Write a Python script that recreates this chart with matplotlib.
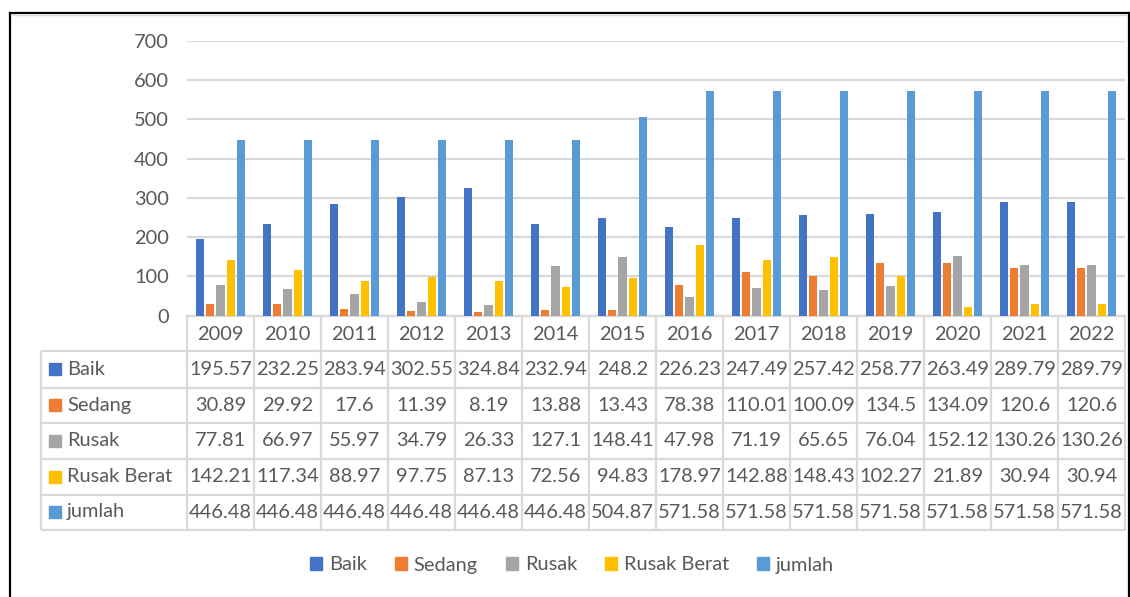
import matplotlib
matplotlib.use("Agg")
import matplotlib.pyplot as plt
from matplotlib.patches import Patch
import numpy as np

plt.rcParams["font.family"] = ["Lato", "DejaVu Sans"]

years = [2009, 2010, 2011, 2012, 2013, 2014, 2015, 2016, 2017, 2018, 2019, 2020, 2021, 2022]
baik = [195.57, 232.25, 283.94, 302.55, 324.84, 232.94, 248.2, 226.23, 247.49, 257.42, 258.77, 263.49, 289.79, 289.79]
sedang = [30.89, 29.92, 17.6, 11.39, 8.19, 13.88, 13.43, 78.38, 110.01, 100.09, 134.5, 134.09, 120.6, 120.6]
rusak = [77.81, 66.97, 55.97, 34.79, 26.33, 127.1, 148.41, 47.98, 71.19, 65.65, 76.04, 152.12, 130.26, 130.26]
rusak_berat = [142.21, 117.34, 88.97, 97.75, 87.13, 72.56, 94.83, 178.97, 142.88, 148.43, 102.27, 21.89, 30.94, 30.94]
jumlah = [446.48, 446.48, 446.48, 446.48, 446.48, 446.48, 504.87, 571.58, 571.58, 571.58, 571.58, 571.58, 571.58, 571.58]

series_names = ["Baik", "Sedang", "Rusak", "Rusak Berat", "jumlah"]
series_vals = [baik, sedang, rusak, rusak_berat, jumlah]
series_colors = ["#4472C4", "#ED7D31", "#A5A5A5", "#FFC000", "#5B9BD5"]

TXT = "#595959"
GRID = "#D9D9D9"
FS = 14.4

W, H = 1130, 597
fig = plt.figure(figsize=(W / 100, H / 100), dpi=100)

# plot area in pixels
px_left, px_right = 187, 1125
px_top, px_base = 40.7, 315.7
ax = fig.add_axes([px_left / W, 1 - px_base / H,
                   (px_right - px_left) / W, (px_base - px_top) / H])

x = np.arange(len(years)) + 0.5
step, bw = 0.155, 0.124
for i, (vals, col) in enumerate(zip(series_vals, series_colors)):
    ax.bar(x + (i - 2) * step, vals, width=bw, color=col, zorder=3)

ax.set_xlim(0, len(years))
ax.set_ylim(0, 700)
ax.set_yticks(range(0, 701, 100))
ax.yaxis.grid(True, color=GRID, linewidth=1.6, zorder=0)
ax.set_xticks([])
ax.tick_params(axis="y", length=0, pad=13, labelsize=FS, labelcolor=TXT)
for s in ["top", "right", "left"]:
    ax.spines[s].set_visible(False)
ax.spines["bottom"].set_color(GRID)
ax.spines["bottom"].set_linewidth(1.6)

# overlay in pixel coordinates for data table + frame
ov = fig.add_axes([0, 0, 1, 1])
ov.set_xlim(0, W)
ov.set_ylim(H, 0)
ov.axis("off")

col_x = px_left + np.arange(len(years) + 1) * (px_right - px_left) / len(years)
tbl_left = 41
row_y = [351, 387.5, 423, 459, 494.5, 529.5]
lw = 1.6

ov.vlines(col_x, px_base, row_y[-1], color=GRID, lw=lw)
ov.vlines([tbl_left], row_y[0], row_y[-1], color=GRID, lw=lw)
ov.hlines(row_y, tbl_left, px_right, color=GRID, lw=lw)

for j, yr in enumerate(years):
    cx = (col_x[j] + col_x[j + 1]) / 2
    ov.text(cx, (px_base + row_y[0]) / 2 + 1, str(yr), ha="center", va="center",
            fontsize=FS, color=TXT)
    for r, vals in enumerate(series_vals):
        cy = (row_y[r] + row_y[r + 1]) / 2
        ov.text(cx, cy, f"{vals[j]:g}", ha="center", va="center", fontsize=FS, color=TXT)

for r, (name, col) in enumerate(zip(series_names, series_colors)):
    cy = (row_y[r] + row_y[r + 1]) / 2
    ov.add_patch(plt.Rectangle((49, cy - 6), 12, 12, color=col))
    ov.text(67, cy, name, ha="left", va="center", fontsize=FS, color=TXT)

# chart frame
ov.plot([9.5, 9.5], [H, 12.5], color="black", lw=1.6, clip_on=False)
ov.plot([9.5, 1128.5], [12.5, 12.5], color="black", lw=1.6, clip_on=False)
ov.plot([1128.5, 1128.5], [12.5, H], color="black", lw=1.6, clip_on=False)
ov.plot([11, 1126], [14.5, 14.5], color=GRID, lw=1, clip_on=False)

handles = [Patch(color=c) for c in series_colors]
fig.legend(handles, series_names, loc="center", bbox_to_anchor=(572 / W, 1 - 565 / H),
           ncol=5, frameon=False, fontsize=FS, labelcolor=TXT,
           handlelength=0.6, handleheight=0.6, handletextpad=0.35, columnspacing=1.4)

fig.savefig("out.png", dpi=100)
